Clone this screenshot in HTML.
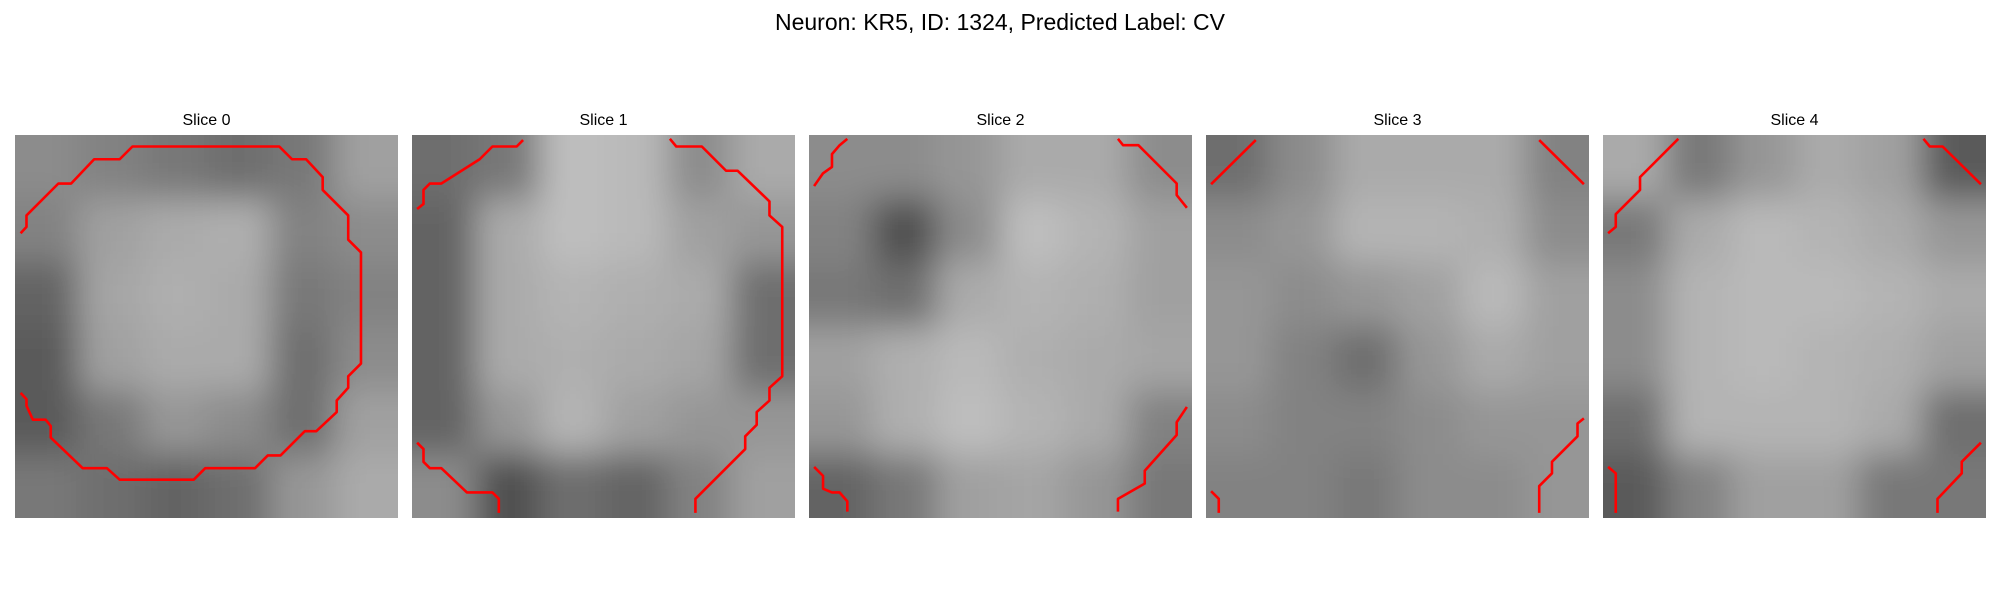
<!DOCTYPE html>
<html><head><meta charset="utf-8"><style>
html,body{margin:0;padding:0;background:#fff;width:2000px;height:600px;overflow:hidden;}
svg{display:block;font-family:"Liberation Sans","DejaVu Sans",sans-serif;}
</style></head><body>
<svg id="fig" width="2000" height="600" viewBox="0 0 2000 600" overflow="hidden">
<defs>
<filter id="bl" x="-10%" y="-10%" width="120%" height="120%"><feGaussianBlur stdDeviation="17"/></filter>
</defs>
<text x="1000" y="30" text-anchor="middle" font-size="23" fill="#000">Neuron: KR5, ID: 1324, Predicted Label: CV</text>
<g id="panels"></g>
</svg>
<script>
const sliceTitles = ["Slice 0","Slice 1","Slice 2","Slice 3","Slice 4"];
const slice0 = [[140,130,120,110,120,160],[130,160,170,175,130,140],[100,165,175,170,120,130],[90,160,170,170,110,140],[90,120,150,140,110,160],[120,110,100,110,150,170]];
const slice1 = [[110,120,190,185,140,170],[100,170,190,185,160,150],[100,170,180,175,170,110],[100,170,175,170,165,110],[100,150,180,160,150,150],[140,80,110,100,130,160]];
const slice2 = [[140,140,150,170,170,140],[130,80,140,190,180,160],[120,110,170,180,175,160],[160,175,185,175,170,165],[150,175,190,180,170,130],[100,120,160,165,150,120]];
const slice3 = [[110,140,170,170,170,130],[140,150,180,180,175,140],[150,140,150,160,185,160],[150,130,110,150,170,160],[140,130,130,140,150,150],[130,130,120,140,140,150]];
const slice4 = [[170,120,150,170,160,90],[120,170,185,180,170,150],[140,180,185,185,180,170],[140,180,185,180,175,160],[110,180,180,180,170,110],[90,130,160,160,120,120]];
const images = [slice0,slice1,slice2,slice3,slice4];
const contours0 = [[[0.44,7.7],[0.9,7.2],[0.9,6.3],[3.4,3.8],[4.4,3.8],[6.2,1.9],[8.2,1.9],[9.2,0.9],[20.7,0.9],[21.7,1.9],[22.8,1.9],[24.1,3.3],[24.1,4.3],[26.1,6.3],[26.1,8.2],[27.1,9.2],[27.1,17.9],[26.1,18.9],[26.1,19.8],[25.2,20.8],[25.2,21.7],[23.6,23.2],[22.7,23.2],[20.8,25.1],[19.8,25.1],[18.8,26.1],[14.9,26.1],[14.0,27.0],[8.2,27.0],[7.2,26.1],[5.3,26.1],[2.8,23.7],[2.8,22.8],[2.4,22.3],[1.4,22.3],[0.9,21.2],[0.9,20.7],[0.44,20.2]]];
const contours1 = [[[0.4,5.8],[0.9,5.4],[0.9,4.3],[1.4,3.8],[2.3,3.8],[5.3,1.9],[6.3,0.9],[8.2,0.9],[8.7,0.4]],[[20.2,0.3],[20.7,0.9],[22.7,0.9],[24.6,2.8],[25.5,2.8],[28.0,5.2],[28.0,6.3],[29.0,7.2],[29.0,18.9],[28.0,19.8],[28.0,20.8],[27.0,21.7],[27.0,22.7],[26.1,23.6],[26.1,24.6],[22.2,28.5],[22.2,29.6]],[[0.4,24.1],[0.9,24.6],[0.9,25.6],[1.4,26.1],[2.3,26.1],[4.3,28.0],[6.3,28.0],[6.8,28.5],[6.8,29.6]]];
const contours2 = [[[0.4,4],[1.1,3],[1.8,2.5],[1.8,1.5],[2.4,0.8],[3,0.3]],[[24.2,0.3],[24.6,0.8],[25.8,0.8],[28.8,3.8],[28.8,4.7],[29.6,5.7]],[[29.6,21.3],[28.8,22.5],[28.8,23.5],[26.3,26.3],[26.3,27.3],[24.2,28.5],[24.2,29.5]],[[0.4,26],[1.1,26.7],[1.1,27.7],[1.8,28],[2.4,28],[3,28.7],[3,29.5]]];
const contours3 = [[[0.4,3.85],[3.9,0.4]],[[26.1,0.4],[29.6,3.85]],[[29.6,22.2],[29.1,22.6],[29.1,23.6],[27.1,25.6],[27.1,26.5],[26.1,27.5],[26.1,29.6]],[[0.4,27.9],[1,28.5],[1,29.6]]];
const contours4 = [[[5.9,0.3],[2.9,3.3],[2.9,4.3],[1,6.2],[1,7.2],[0.4,7.7]],[[25.1,0.3],[25.6,0.9],[26.6,0.9],[29.6,3.85]],[[29.6,24.1],[28.1,25.6],[28.1,26.5],[26.2,28.5],[26.2,29.6]],[[0.4,26],[1,26.5],[1,29.6]]];
const contours = [contours0,contours1,contours2,contours3,contours4];

const NS="http://www.w3.org/2000/svg";
const g=document.getElementById('panels');
const defs=document.querySelector('defs');
const P0=15, STEP=397, TOP=135, SIZE=383;
function mk(t,a){const e=document.createElementNS(NS,t);for(const k in a)e.setAttribute(k,a[k]);return e;}
images.forEach((img,i)=>{
  const x0=P0+i*STEP;
  const sx=v=>x0+v/30*SIZE, sy=v=>TOP+v/30*SIZE;
  const cp=mk('clipPath',{id:'cp'+i});cp.appendChild(mk('rect',{x:x0,y:TOP,width:SIZE,height:SIZE}));defs.appendChild(cp);
  const pg=mk('g',{});
  
  
  const t=mk('text',{x:x0+SIZE/2,y:125,'text-anchor':'middle','font-size':'16',fill:'#000'});
  t.textContent=sliceTitles[i];
  
  
  pg.appendChild(t);
  const clipG=mk('g',{'clip-path':'url(#cp'+i+')'});
  const im=mk('g',{filter:'url(#bl)'});
  
  
  const n=img.length, c=30/n;
  const cl=v=>Math.max(0,Math.min(n-1,v));
  for(let r=-1;r<n+1;r++)for(let k=-1;k<n+1;k++){
    const v=img[cl(r)][cl(k)];
    const rc=mk('rect',{x:sx(k*c),y:sy(r*c),width:SIZE/n+1,height:SIZE/n+1,fill:`rgb(${v},${v},${v})`});
    
    
    im.appendChild(rc);
  }
  clipG.appendChild(im);
  pg.appendChild(clipG);
  contours[i].forEach(seg=>{
    const pl=mk('polyline',{points:seg.map(p=>sx(p[0])+','+sy(p[1])).join(' '),fill:'none',stroke:'#ff0000','stroke-width':'2.6','stroke-linejoin':'round'});
    
    
    pg.appendChild(pl);
  });
  g.appendChild(pg);
});
</script>
</body></html>
